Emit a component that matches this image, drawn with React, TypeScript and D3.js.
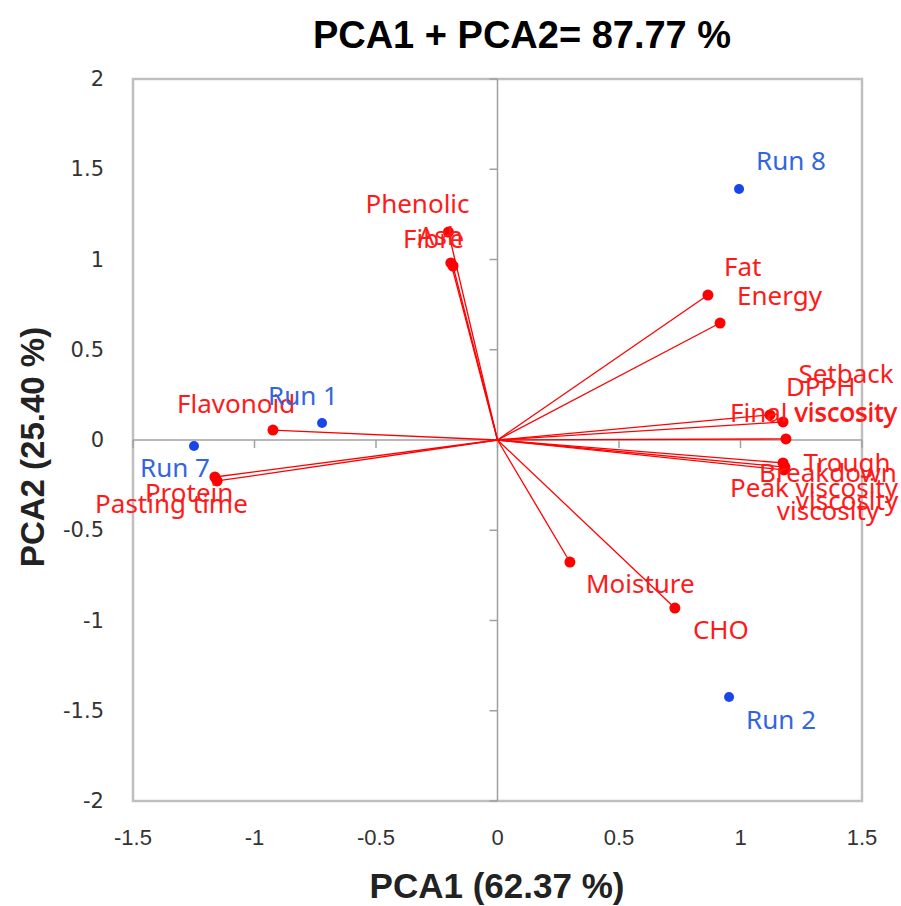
import React from 'react';
import * as d3 from 'd3';

// loading vectors (PCA1, PCA2)
const variables = ['Phenolic', 'Ash', 'Fibre', 'Fat', 'Energy', 'Setback\nviscosity', 'DPPH', 'Final viscosity',
  'Trough\nviscosity', 'Breakdown\nviscosity', 'Peak viscosity', 'Moisture', 'CHO', 'Flavonoid', 'Protein', 'Pasting time'];
const varPC1 = [-0.202, -0.192, -0.183, 0.866, 0.916, 1.175, 1.121, 1.187, 1.175, 1.183, 1.179, 0.298, 0.730, -0.924, -1.163, -1.154];
const varPC2 = [1.152, 0.981, 0.964, 0.803, 0.648, 0.100, 0.139, 0.006, -0.127, -0.150, -0.166, -0.676, -0.931, 0.055, -0.205, -0.227];

// sample scores
const runs = ['Run 8', 'Run 1', 'Run 7', 'Run 2'];
const runPC1 = [0.994, -0.722, -1.249, 0.953];
const runPC2 = [1.391, 0.094, -0.033, -1.424];

const xTicks = [-1.5, -1, -0.5, 0, 0.5, 1, 1.5];
const yTicks = [2, 1.5, 1, 0.5, 0, -0.5, -1, -1.5, -2];

// label placement relative to the point (px)
const labelPos: Record<string, [number, number]> = {
  'Phenolic': [-83, -29], 'Ash': [-33, -28], 'Fibre': [-50, -28], 'Fat': [16, -29], 'Energy': [17, -28],
  'Setback\nviscosity': [63, -49], 'DPPH': [16, -29], 'Final viscosity': [-56, -27],
  'Trough\nviscosity': [64, -1], 'Breakdown\nviscosity': [43, 5], 'Peak viscosity': [-54, 17],
  'Moisture': [16, 21], 'CHO': [18, 21], 'Flavonoid': [-96, -27], 'Protein': [-70, 15], 'Pasting time': [-122, 22],
  'Run 8': [17, -29], 'Run 1': [-54, -28], 'Run 7': [-54, 21], 'Run 2': [17, 22],
};

const labelFont = '"Noto Sans", "Open Sans", sans-serif';

const App = () => {
  const x = d3.scaleLinear().domain([-1.5, 1.5]).range([133, 862]);
  const y = d3.scaleLinear().domain([-2, 2]).range([801, 79]);

  const label = (name: string, px: number, py: number, color: string) => {
    const [dx, dy] = labelPos[name];
    const lines = name.split('\n');
    const multi = lines.length > 1;
    return (
      <text key={'l' + name} x={px + dx} y={py + dy} fill={color} fontFamily={labelFont} fontSize={26}
        textAnchor={multi ? 'middle' : 'start'} dominantBaseline="central">
        {lines.map((t, i) => (
          <tspan key={i} x={px + dx} dy={i === 0 ? 0 : 38}>{t}</tspan>
        ))}
      </text>
    );
  };

  return (
    <svg width={901} height={906} style={{ position: 'absolute', left: 0, top: 0, background: '#fff' }}>
      <text x={522} y={48} textAnchor="middle" fontFamily='"Liberation Sans", Arial, sans-serif'
        fontWeight="bold" fontSize={38}>PCA1 + PCA2= 87.77 %</text>

      {/* plot frame */}
      <rect x={133} y={79} width={729} height={722} fill="none" stroke="#bfbfbf" strokeWidth={2.5} />

      {/* axes through origin */}
      <line x1={x(-1.5)} x2={x(1.5)} y1={y(0)} y2={y(0)} stroke="#a0a0a0" strokeWidth={1.5} />
      <line x1={x(0)} x2={x(0)} y1={y(2)} y2={y(-2)} stroke="#a0a0a0" strokeWidth={1.5} />
      {yTicks.map(t => (
        <line key={'yt' + t} x1={x(0) - 8} x2={x(0)} y1={y(t)} y2={y(t)} stroke="#a0a0a0" strokeWidth={1.5} />
      ))}
      {xTicks.map(t => (
        <line key={'xt' + t} x1={x(t)} x2={x(t)} y1={y(0)} y2={y(0) + 8} stroke="#a0a0a0" strokeWidth={1.5} />
      ))}

      {yTicks.map(t => (
        <text key={'yl' + t} x={104} y={y(t)} textAnchor="end" dominantBaseline="central"
          fontFamily='"DejaVu Sans", Verdana, sans-serif' fontSize={21} fill="#333">{t}</text>
      ))}
      {xTicks.map(t => (
        <text key={'xl' + t} x={x(t)} y={837} textAnchor="middle" dominantBaseline="central"
          fontFamily='"Liberation Sans", Arial, sans-serif' fontSize={22} fill="#333">{t}</text>
      ))}

      <text x={497} y={898} textAnchor="middle" fontFamily='"Liberation Sans", Arial, sans-serif'
        fontWeight="bold" fontSize={35} fill="#222">PCA1 (62.37 %)</text>
      <text transform={`translate(44, ${y(0) + 7}) rotate(-90)`} textAnchor="middle"
        fontFamily='"Liberation Sans", Arial, sans-serif' fontWeight="bold" fontSize={33} fill="#222">PCA2 (25.40 %)</text>

      {/* loading vectors */}
      {variables.map((v, i) => (
        <line key={'v' + v} x1={x(0)} y1={y(0)} x2={x(varPC1[i])} y2={y(varPC2[i])} stroke="#ff0000" strokeWidth={1.3} />
      ))}
      {variables.map((v, i) => (
        <circle key={'d' + v} cx={x(varPC1[i])} cy={y(varPC2[i])} r={5.5} fill="#ff0000" />
      ))}
      {runs.map((r, i) => (
        <circle key={'r' + r} cx={x(runPC1[i])} cy={y(runPC2[i])} r={5} fill="#1846e8" />
      ))}

      {variables.map((v, i) => label(v, x(varPC1[i]), y(varPC2[i]), '#ff1a1a'))}
      {runs.map((r, i) => label(r, x(runPC1[i]), y(runPC2[i]), '#3366dd'))}
    </svg>
  );
};

export default App;
